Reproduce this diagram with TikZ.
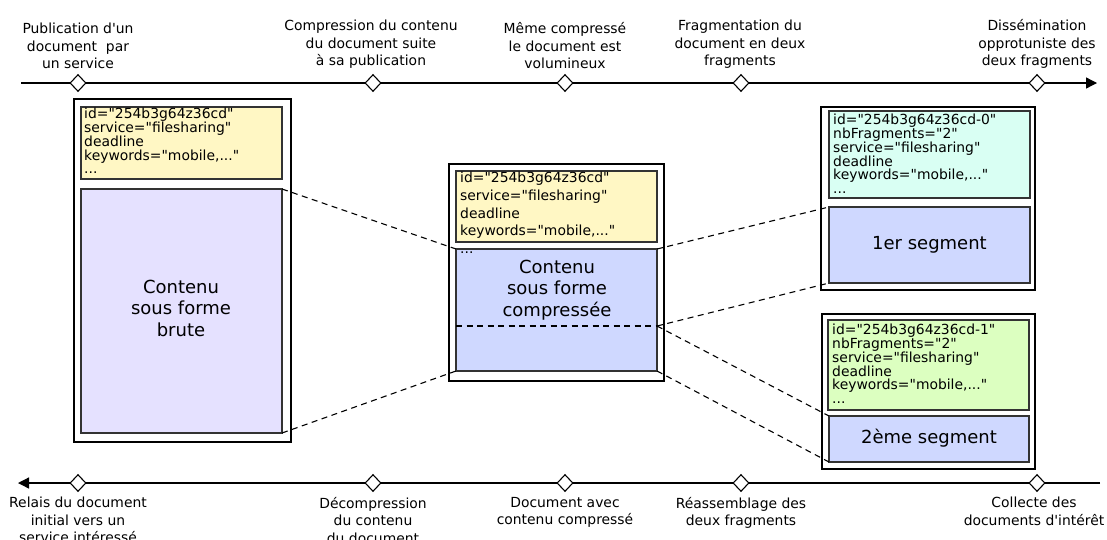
\documentclass[tikz,border=0pt]{standalone}
\usepackage{fontspec}
\setmainfont{DejaVu Sans}[Ligatures=TeXOff]
\usetikzlibrary{shapes.geometric,arrows.meta}
\definecolor{metayellow}{HTML}{FFF7C4}
\definecolor{rawlav}{HTML}{E5E1FF}
\definecolor{cmpblue}{HTML}{CFD8FF}
\definecolor{metacyan}{HTML}{D9FFF3}
\definecolor{metagreen}{HTML}{DCFFC0}
\newcommand\lblfont{\fontsize{13.9}{17.5}\selectfont}
\newcommand\mymetafont{\fontsize{13.9}{13.8}\selectfont}
\newcommand\mymetafontb{\fontsize{13.9}{17.7}\selectfont}
\newcommand\bigtxt{\fontsize{18}{21.5}\selectfont}
\begin{document}
\begin{tikzpicture}[x=1pt,y=-1pt,
  outerbox/.style={draw=black, fill=white, line width=1.3pt, inner sep=0pt, outer sep=0pt, anchor=north west},
  inbox/.style={draw=black!80, line width=1.2pt, inner sep=0pt, outer sep=0pt, anchor=north west},
  metatxt/.style={anchor=north west, align=left, inner sep=0pt, font=\mymetafont},
  bigtext/.style={align=center, inner sep=0pt, font=\bigtxt},
  axis/.style={line width=1.3pt},
  milestone/.style={shape=diamond, draw=black, fill=white, line width=1.1pt, inner sep=0pt, minimum width=16pt, minimum height=17pt},
  toplbl/.style={anchor=south, align=center, inner sep=0pt, font=\lblfont},
  botlbl/.style={anchor=north, align=center, inner sep=0pt, font=\lblfont},
  dashline/.style={dashed, dash pattern=on 6pt off 4.5pt, line width=1.1pt}
]
\useasboundingbox (0,0) rectangle (1107,539);

% axes
\coordinate (topstart) at (21,83);
\coordinate (topend) at (1097,83);
\draw[axis, -{Triangle[length=11pt,width=11pt]}] (topstart) -- (topend);
\coordinate (botstart) at (1100,483);
\coordinate (botend) at (18,483);
\draw[axis, -{Triangle[length=11pt,width=11pt]}] (botstart) -- (botend);

\foreach \n/\x in {1/78,2/373,3/565,4/741,5/1037}{
  \node[milestone] (t\n) at (\x,83) {};
  \node[milestone] (b\n) at (\x,483) {};
}

% top labels
\node[toplbl] (tl1) at (78,69) {Publication d'un\\document~ par\\un service};
\node[toplbl] (tl2) at (371,69) {Compression du contenu\\du document suite\\à sa publication};
\node[toplbl] (tl3) at (565,69) {Même compressé\\le document est\\volumineux};
\node[toplbl] (tl4) at (740,69) {Fragmentation du\\document en deux\\fragments};
\node[toplbl] (tl5) at (1037,69) {Dissémination\\opprotuniste des\\deux fragments};

% bottom labels
\node[botlbl] (bl1) at (78,497) {Relais du document\\initial vers un\\service intéressé};
\node[botlbl] (bl2) at (373,497) {Décompression\\du contenu\\du document};
\node[botlbl] (bl3) at (565,497) {Document avec\\contenu compressé};
\node[botlbl] (bl4) at (741,497) {Réassemblage des\\deux fragments};
\node[botlbl] (bl5) at (1034,497) {Collecte des\\documents d'intérêt};

% raw document
\node[outerbox, minimum width=217pt, minimum height=343pt] (rawout) at (74,99) {};
\node[inbox, fill=metayellow, minimum width=201pt, minimum height=72pt] (rawmeta) at (81,107) {};
\node[inbox, fill=rawlav, minimum width=201pt, minimum height=244pt] (rawbody) at (81,189) {};
\node[metatxt] (rawmetatxt) at (84,108) {id="254b3g64z36cd"\\service="filesharing"\\deadline\\keywords="mobile,..."\\...};
\node[bigtext] (rawtxt) at (181,308) {Contenu\\sous forme\\brute};

% compressed document
\node[outerbox, minimum width=215pt, minimum height=217pt] (cmpout) at (449,164) {};
\node[inbox, fill=metayellow, minimum width=201pt, minimum height=71pt] (cmpmeta) at (456,171) {};
\node[inbox, fill=cmpblue, minimum width=201pt, minimum height=122pt] (cmpbody) at (456,249) {};
\node[metatxt, font=\mymetafontb] (cmpmetatxt) at (460,172) {id="254b3g64z36cd"\\service="filesharing"\\deadline\\keywords="mobile,..."\\...};
\node[bigtext] (cmptxt) at (557,290) {Contenu\\sous forme\\compressée};
\coordinate (splitL) at (456,326);
\coordinate (splitR) at (657,326);
\draw[dashline] (splitL) -- (splitR);

% fragment 0
\node[outerbox, minimum width=214pt, minimum height=183pt] (f0out) at (821,107) {};
\node[inbox, fill=metacyan, minimum width=201pt, minimum height=87pt] (f0meta) at (829,111) {};
\node[inbox, fill=cmpblue, minimum width=201pt, minimum height=76pt] (f0body) at (829,207) {};
\node[metatxt] (f0metatxt) at (833,114) {id="254b3g64z36cd-0"\\nbFragments="2"\\service="filesharing"\\deadline\\keywords="mobile,..."\\...};
\node[bigtext] (f0txt) at (929.5,245) {1er segment};

% fragment 1
\node[outerbox, minimum width=213pt, minimum height=155pt] (f1out) at (822,314) {};
\node[inbox, fill=metagreen, minimum width=201pt, minimum height=90pt] (f1meta) at (828,320) {};
\node[inbox, fill=cmpblue, minimum width=200pt, minimum height=46pt] (f1body) at (829,416) {};
\node[metatxt] (f1metatxt) at (832,324) {id="254b3g64z36cd-1"\\nbFragments="2"\\service="filesharing"\\deadline\\keywords="mobile,..."\\...};
\node[bigtext] (f1txt) at (929,438) {2ème segment};

% connectors
\draw[dashline] (rawbody.north east) -- (cmpbody.north west);
\draw[dashline] (rawbody.south east) -- (cmpbody.south west);
\draw[dashline] (cmpbody.north east) -- (f0body.north west);
\draw[dashline] (splitR) -- (f0body.south west);
\draw[dashline] (splitR) -- (f1body.north west);
\draw[dashline] (cmpbody.south east) -- (f1body.south west);
\end{tikzpicture}
\end{document}
